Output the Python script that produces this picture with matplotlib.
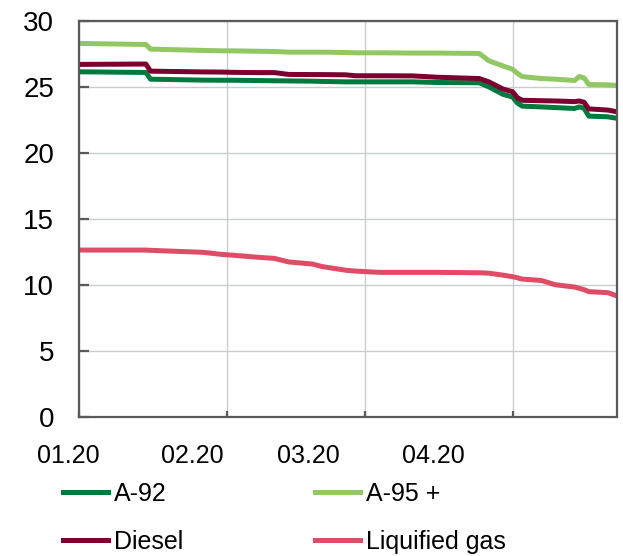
import matplotlib.pyplot as plt
import pandas as pd

plt.rcParams['font.family'] = ['Liberation Sans', 'DejaVu Sans']

# dates of the readings (2020)
dates = ['2020-01-01', '2020-01-15', '2020-01-16', '2020-01-27', '2020-01-31',
         '2020-02-02', '2020-02-07', '2020-02-11', '2020-02-14', '2020-02-19',
         '2020-02-21', '2020-02-26', '2020-02-28', '2020-03-04', '2020-03-11',
         '2020-03-16', '2020-03-25', '2020-03-27', '2020-03-30', '2020-04-01',
         '2020-04-02', '2020-04-03', '2020-04-07', '2020-04-10', '2020-04-14',
         '2020-04-15', '2020-04-16', '2020-04-17', '2020-04-21', '2020-04-23']

a92 = [26.16, 26.11, 25.60, 25.53, 25.52, 25.52, 25.50, 25.48, 25.47, 25.45,
       25.43, 25.40, 25.40, 25.40, 25.40, 25.35, 25.33, 25.02, 24.45, 24.25,
       23.80, 23.56, 23.50, 23.45, 23.38, 23.50, 23.40, 22.80, 22.75, 22.63]
a95 = [28.31, 28.23, 27.88, 27.78, 27.75, 27.75, 27.72, 27.70, 27.65, 27.65,
       27.65, 27.62, 27.60, 27.60, 27.58, 27.58, 27.55, 27.00, 26.60, 26.35,
       26.05, 25.80, 25.65, 25.60, 25.50, 25.80, 25.70, 25.20, 25.17, 25.12]
diesel = [26.72, 26.75, 26.21, 26.15, 26.14, 26.12, 26.10, 26.10, 25.96, 25.95,
          25.95, 25.93, 25.86, 25.86, 25.85, 25.75, 25.65, 25.40, 24.85, 24.65,
          24.20, 24.00, 23.97, 23.95, 23.90, 23.95, 23.85, 23.35, 23.26, 23.12]
lpg = [12.65, 12.65, 12.63, 12.48, 12.32, 12.27, 12.12, 12.02, 11.75, 11.59,
       11.40, 11.12, 11.06, 10.96, 10.96, 10.96, 10.93, 10.90, 10.75, 10.63,
       10.55, 10.45, 10.35, 10.02, 9.85, 9.75, 9.65, 9.50, 9.42, 9.17]

month_starts = ['2020-01-01', '2020-02-01', '2020-03-01', '2020-04-01']
month_labels = ['01.20', '02.20', '03.20', '04.20']

x = pd.to_datetime(dates)

fig = plt.figure(figsize=(6.23, 5.56), dpi=100)
ax = fig.add_axes([0.127, 0.25, 0.864, 0.712])

lw = 3.6
l92, = ax.plot(x, a92, color='#00793f', lw=lw, label='A-92')
l95, = ax.plot(x, a95, color='#92c863', lw=lw, label='A-95 +')
ldi, = ax.plot(x, diesel, color='#7b0030', lw=lw, label='Diesel')
llp, = ax.plot(x, lpg, color='#e04b66', lw=lw, label='Liquified gas')

ax.set_xlim(pd.Timestamp('2020-01-01'), pd.Timestamp('2020-04-23'))
ax.set_ylim(0, 30)
ax.set_yticks(range(0, 31, 5))

ax.set_xticks(pd.to_datetime(month_starts))
ax.set_xticklabels([''] * len(month_starts))
ax.grid(True, color='#c9cdd1', lw=1.0)
ax.set_axisbelow(True)

for s in ax.spines.values():
    s.set_color('#595959')
    s.set_linewidth(1.6)
ax.tick_params(axis='y', direction='in', length=7, width=1.6, color='#595959',
               labelsize=20, pad=18)
ax.tick_params(axis='x', direction='in', length=4, width=1.6, color='#595959')

# month labels sit left of their gridlines, as in the source chart
label_pos = [-0.020, 0.210, 0.426, 0.658]
for p, t in zip(label_pos, month_labels):
    ax.text(p, -0.098, t, transform=ax.transAxes, ha='center', va='center',
            fontsize=18)

# legend fills column-wise, so order the handles to get A-92 | A-95 + on the first row
ax.legend([l92, ldi, l95, llp], ['A-92', 'Diesel', 'A-95 +', 'Liquified gas'],
          loc='upper left', bbox_to_anchor=(0.101, 0.133), bbox_transform=fig.transFigure,
          ncol=2, frameon=False, fontsize=18, handlelength=1.8, handletextpad=0.25,
          columnspacing=5.25, labelspacing=0.94, borderpad=0, borderaxespad=0)

plt.savefig('out.png', dpi=100)
